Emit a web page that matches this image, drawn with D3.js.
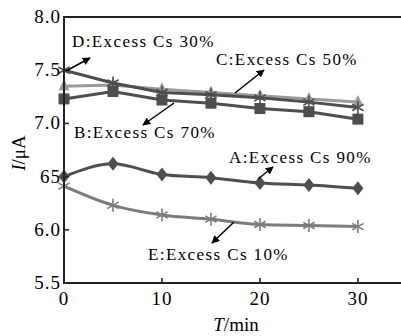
<!DOCTYPE html>
<html>
<head>
<meta charset="utf-8">
<script src="https://cdn.jsdelivr.net/npm/d3@7"></script>
<style>
  body { margin: 0; background: #fff; }
</style>
</head>
<body>
<div class="chart"></div>
<script>
'use strict';

// time points (min)
var times = [0, 5, 10, 15, 20, 25, 30];

// current (uA) for each excess Cs level
var seriesA = [6.50, 6.62, 6.52, 6.49, 6.44, 6.42, 6.39];   // 90%
var seriesB = [7.23, 7.30, 7.22, 7.19, 7.14, 7.11, 7.04];   // 70%
var seriesC = [7.35, 7.36, 7.32, 7.29, 7.26, 7.23, 7.20];   // 50%
var seriesD = [7.50, 7.38, 7.29, 7.27, 7.24, 7.20, 7.15];   // 30%
var seriesE = [6.41, 6.23, 6.14, 6.10, 6.05, 6.04, 6.03];   // 10%

var xTicks = [0, 10, 20, 30];
var yTicks = [5.5, 6.0, 6.5, 7.0, 7.5, 8.0];
var yTickLabels = ['5.5', '6.0', '65', '7.0', '7.5', '8.0'];

var width = 401;
var height = 336;
var margin = { top: 17, right: 0, bottom: 53, left: 64 };

var svg = d3.select('.chart')
            .append('svg')
            .attr('width', width)
            .attr('height', height)
            .attr('font-family', "'Liberation Serif', 'Times New Roman', 'DejaVu Serif', serif");

var x = d3.scaleLinear().domain([0, 34.4]).range([margin.left, width - margin.right]);
var y = d3.scaleLinear().domain([5.5, 8.0]).range([height - margin.bottom, margin.top]);

// arrow head
svg.append('defs').append('marker')
    .attr('id', 'head')
    .attr('viewBox', '0 0 10 10')
    .attr('refX', 9)
    .attr('refY', 5)
    .attr('markerWidth', 8)
    .attr('markerHeight', 8)
    .attr('markerUnits', 'userSpaceOnUse')
    .attr('orient', 'auto')
    .append('path')
    .attr('d', 'M0,0 L10,5 L0,10 z')
    .attr('fill', '#000');

var series = [
  { name: 'C', values: seriesC, color: '#9a9a9a', marker: 'triangle', curve: d3.curveLinear },
  { name: 'B', values: seriesB, color: '#4e4e4e', marker: 'square', curve: d3.curveLinear },
  { name: 'D', values: seriesD, color: '#4e4e4e', marker: 'star', curve: d3.curveLinear },
  { name: 'A', values: seriesA, color: '#4e4e4e', marker: 'diamond', curve: d3.curveMonotoneX },
  { name: 'E', values: seriesE, color: '#7c7c7c', marker: 'star', curve: d3.curveMonotoneX }
];

series.forEach(function(s) {
  var pts = times.map(function(t, i) { return [t, s.values[i]]; });
  var line = d3.line()
               .x(function(d) { return x(d[0]); })
               .y(function(d) { return y(d[1]); })
               .curve(s.curve);
  svg.append('path')
     .attr('d', line(pts))
     .attr('fill', 'none')
     .attr('stroke', s.color)
     .attr('stroke-width', 3);

  var g = svg.append('g');
  pts.forEach(function(d) {
    var cx = x(d[0]), cy = y(d[1]);
    if (s.marker === 'square') {
      g.append('rect').attr('x', cx - 5.5).attr('y', cy - 5.5)
       .attr('width', 11).attr('height', 11).attr('fill', s.color);
    } else if (s.marker === 'diamond') {
      g.append('path')
       .attr('d', 'M' + cx + ',' + (cy - 7) + 'L' + (cx + 5.5) + ',' + cy +
                  'L' + cx + ',' + (cy + 7) + 'L' + (cx - 5.5) + ',' + cy + 'Z')
       .attr('fill', s.color);
    } else if (s.marker === 'triangle') {
      g.append('path')
       .attr('d', 'M' + cx + ',' + (cy - 7) + 'L' + (cx + 5.5) + ',' + (cy + 4) +
                  'L' + (cx - 5.5) + ',' + (cy + 4) + 'Z')
       .attr('fill', s.color);
    } else {
      var r = 6.5;
      [90, 30, 150].forEach(function(a) {
        var rad = a * Math.PI / 180;
        g.append('line')
         .attr('x1', cx - r * Math.cos(rad)).attr('y1', cy - r * Math.sin(rad))
         .attr('x2', cx + r * Math.cos(rad)).attr('y2', cy + r * Math.sin(rad))
         .attr('stroke', s.color).attr('stroke-width', 1.6);
      });
    }
  });
});

// frame
var x0 = margin.left, x1 = width - margin.right;
var yTop = margin.top, yBot = height - margin.bottom;
svg.append('path')
   .attr('d', 'M' + x1 + ',' + yTop + 'H' + x0 + 'V' + yBot + 'H' + x1)
   .attr('fill', 'none')
   .attr('stroke', '#222')
   .attr('stroke-width', 2);

// y ticks (inside)
yTicks.forEach(function(v, i) {
  svg.append('line')
     .attr('x1', x0).attr('x2', x0 + 5)
     .attr('y1', y(v)).attr('y2', y(v))
     .attr('stroke', '#222').attr('stroke-width', 1.5);
  svg.append('text')
     .attr('x', x0 - 3)
     .attr('y', y(v) + 6)
     .attr('text-anchor', 'end')
     .attr('font-size', '19px')
     .attr('letter-spacing', '1px')
     .text(yTickLabels[i]);
});

// x ticks (inside)
xTicks.forEach(function(v) {
  svg.append('line')
     .attr('x1', x(v)).attr('x2', x(v))
     .attr('y1', yBot).attr('y2', yBot - 5)
     .attr('stroke', '#222').attr('stroke-width', 1.5);
  svg.append('text')
     .attr('x', x(v))
     .attr('y', yBot + 22)
     .attr('text-anchor', 'middle')
     .attr('font-size', '19px')
     .attr('letter-spacing', '1px')
     .text(v);
});

// axis titles
var xt = svg.append('text')
   .attr('x', 236)
   .attr('y', 331)
   .attr('text-anchor', 'middle')
   .attr('font-size', '19px');
xt.append('tspan').attr('font-style', 'italic').text('T');
xt.append('tspan').text('/min');

var yt = svg.append('text')
   .attr('transform', 'translate(25,153) rotate(-90)')
   .attr('text-anchor', 'middle')
   .attr('font-size', '19px');
yt.append('tspan').attr('font-style', 'italic').text('I');
yt.append('tspan').text('/μA');

// annotations
var notes = [
  { text: 'D:Excess Cs 30%', tx: 72, ty: 47, a: [66, 71, 90, 58] },
  { text: 'C:Excess Cs 50%', tx: 216, ty: 65, a: [235, 93, 264, 70] },
  { text: 'B:Excess Cs 70%', tx: 74, ty: 138, a: [174, 103, 143, 125] },
  { text: 'A:Excess Cs 90%', tx: 229, ty: 163, a: [258, 179, 273, 167] },
  { text: 'E:Excess Cs 10%', tx: 148, ty: 260, a: [234, 222, 212, 243] }
];

notes.forEach(function(n) {
  svg.append('text')
     .attr('x', n.tx)
     .attr('y', n.ty)
     .attr('font-size', '17px')
     .attr('letter-spacing', '1.4px')
     .text(n.text);
  svg.append('line')
     .attr('x1', n.a[0]).attr('y1', n.a[1])
     .attr('x2', n.a[2]).attr('y2', n.a[3])
     .attr('stroke', '#000')
     .attr('stroke-width', 1.5)
     .attr('marker-end', 'url(#head)');
});
</script>
</body>
</html>
